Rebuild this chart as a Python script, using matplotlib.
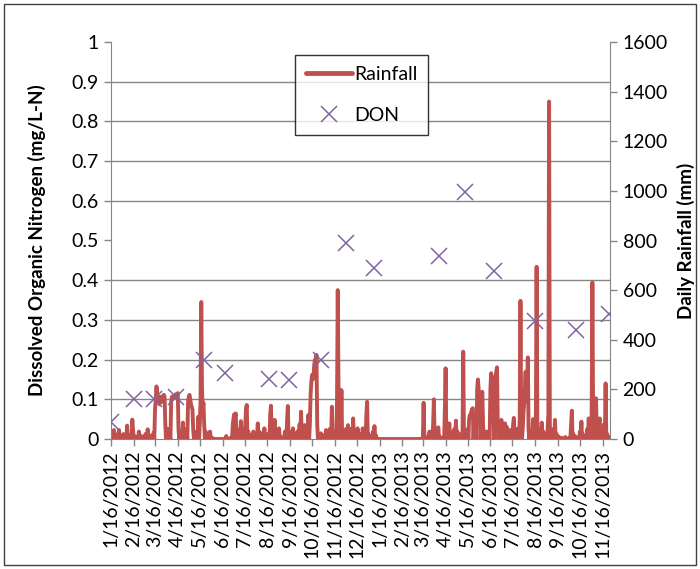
import pandas as pd
import matplotlib
matplotlib.use("Agg")
import matplotlib.pyplot as plt
import matplotlib.dates as mdates
import matplotlib.ticker as mticker
from matplotlib.patches import Rectangle
from matplotlib.lines import Line2D

plt.rcParams['font.family'] = ['Lato', 'DejaVu Sans']

# DON samples (mg/L-N)
don_dates = ["2012-01-16", "2012-02-17", "2012-03-15", "2012-04-14", "2012-05-22",
             "2012-06-19", "2012-08-18", "2012-09-14", "2012-10-28", "2012-12-01",
             "2013-01-08", "2013-04-07", "2013-05-13", "2013-06-21", "2013-08-16",
             "2013-10-11", "2013-11-24"]
don_vals = [0.043, 0.10, 0.10, 0.105, 0.20, 0.167, 0.151, 0.149, 0.199, 0.494,
            0.43, 0.461, 0.622, 0.423, 0.298, 0.275, 0.315]

# daily rainfall (mm), days not listed had no rain
rain_dates = [
    "2012-01-16", "2012-01-17", "2012-01-19", "2012-01-20", "2012-01-23", "2012-01-25",
    "2012-01-27", "2012-01-30", "2012-02-02", "2012-02-04", "2012-02-07", "2012-02-09",
    "2012-02-11", "2012-02-14", "2012-02-15", "2012-02-18", "2012-02-20", "2012-02-23",
    "2012-02-26", "2012-02-29", "2012-03-03", "2012-03-06", "2012-03-08", "2012-03-11",
    "2012-03-14", "2012-03-16", "2012-03-17", "2012-03-18", "2012-03-19", "2012-03-20",
    "2012-03-21", "2012-03-22", "2012-03-23", "2012-03-24", "2012-03-25", "2012-03-26",
    "2012-03-27", "2012-03-28", "2012-03-29", "2012-03-30", "2012-04-01", "2012-04-03",
    "2012-04-05", "2012-04-07", "2012-04-08", "2012-04-09", "2012-04-10", "2012-04-11",
    "2012-04-12", "2012-04-13", "2012-04-14", "2012-04-15", "2012-04-16", "2012-04-17",
    "2012-04-19", "2012-04-21", "2012-04-23", "2012-04-25", "2012-04-28", "2012-04-30",
    "2012-05-01", "2012-05-02", "2012-05-03", "2012-05-04", "2012-05-05", "2012-05-06",
    "2012-05-07", "2012-05-09", "2012-05-12", "2012-05-14", "2012-05-16", "2012-05-17",
    "2012-05-18", "2012-05-19", "2012-05-20", "2012-05-21", "2012-05-22", "2012-05-24",
    "2012-05-26", "2012-05-28", "2012-05-30", "2012-06-02", "2012-06-21", "2012-06-27",
    "2012-06-30", "2012-07-01", "2012-07-02", "2012-07-03", "2012-07-04", "2012-07-06",
    "2012-07-08", "2012-07-11", "2012-07-13", "2012-07-15", "2012-07-17", "2012-07-18",
    "2012-07-19", "2012-07-21", "2012-07-23", "2012-07-25", "2012-07-28", "2012-07-31",
    "2012-08-03", "2012-08-05", "2012-08-07", "2012-08-10", "2012-08-12", "2012-08-14",
    "2012-08-17", "2012-08-20", "2012-08-21", "2012-08-23", "2012-08-26", "2012-08-28",
    "2012-09-01", "2012-09-03", "2012-09-06", "2012-09-09", "2012-09-12", "2012-09-13",
    "2012-09-15", "2012-09-17", "2012-09-20", "2012-09-23", "2012-09-26", "2012-09-29",
    "2012-10-01", "2012-10-03", "2012-10-06", "2012-10-08", "2012-10-11", "2012-10-13",
    "2012-10-14", "2012-10-15", "2012-10-16", "2012-10-17", "2012-10-18", "2012-10-19",
    "2012-10-20", "2012-10-21", "2012-10-22", "2012-10-23", "2012-10-25", "2012-10-28",
    "2012-10-30", "2012-11-01", "2012-11-04", "2012-11-06", "2012-11-09", "2012-11-12",
    "2012-11-14", "2012-11-17", "2012-11-19", "2012-11-20", "2012-11-21", "2012-11-23",
    "2012-11-25", "2012-11-27", "2012-11-29", "2012-12-01", "2012-12-04", "2012-12-06",
    "2012-12-08", "2012-12-11", "2012-12-13", "2012-12-15", "2012-12-17", "2012-12-19",
    "2012-12-21", "2012-12-24", "2012-12-26", "2012-12-29", "2012-12-30", "2013-01-01",
    "2013-01-04", "2013-01-07", "2013-01-09", "2013-01-11",
    "2013-03-17", "2013-03-19", "2013-03-22", "2013-03-25", "2013-03-27", "2013-03-30",
    "2013-03-31", "2013-04-02", "2013-04-04", "2013-04-06", "2013-04-08", "2013-04-11",
    "2013-04-15", "2013-04-16", "2013-04-18", "2013-04-21", "2013-04-24", "2013-04-26",
    "2013-04-28", "2013-04-30", "2013-05-02", "2013-05-05", "2013-05-07", "2013-05-10",
    "2013-05-12", "2013-05-14", "2013-05-16", "2013-05-18", "2013-05-19", "2013-05-20",
    "2013-05-21", "2013-05-22", "2013-05-23", "2013-05-25", "2013-05-27", "2013-05-29",
    "2013-05-30", "2013-05-31", "2013-06-01", "2013-06-02", "2013-06-04", "2013-06-05",
    "2013-06-06", "2013-06-08", "2013-06-11", "2013-06-13", "2013-06-16", "2013-06-17",
    "2013-06-18", "2013-06-19", "2013-06-20", "2013-06-22", "2013-06-23", "2013-06-24",
    "2013-06-25", "2013-06-26", "2013-06-28", "2013-07-01", "2013-07-03", "2013-07-06",
    "2013-07-08", "2013-07-10", "2013-07-13", "2013-07-15", "2013-07-17", "2013-07-18",
    "2013-07-20", "2013-07-22", "2013-07-24", "2013-07-26", "2013-07-27", "2013-07-28",
    "2013-07-30", "2013-07-31", "2013-08-01", "2013-08-02", "2013-08-03", "2013-08-04",
    "2013-08-05", "2013-08-06", "2013-08-07", "2013-08-09", "2013-08-11", "2013-08-13",
    "2013-08-15", "2013-08-17", "2013-08-18", "2013-08-19", "2013-08-21", "2013-08-23",
    "2013-08-25", "2013-08-27", "2013-08-29", "2013-08-31", "2013-09-02", "2013-09-03",
    "2013-09-04", "2013-09-05", "2013-09-07", "2013-09-10", "2013-09-12", "2013-09-14",
    "2013-09-17", "2013-09-21", "2013-09-26", "2013-10-01", "2013-10-04", "2013-10-05",
    "2013-10-07", "2013-10-10", "2013-10-13", "2013-10-16", "2013-10-18", "2013-10-20",
    "2013-10-23", "2013-10-26", "2013-10-28", "2013-10-30", "2013-11-01", "2013-11-02",
    "2013-11-03", "2013-11-05", "2013-11-07", "2013-11-09", "2013-11-11", "2013-11-12",
    "2013-11-14", "2013-11-16", "2013-11-18", "2013-11-20", "2013-11-22", "2013-11-24",
]
rain_mm = [
    30, 15, 10, 36, 18, 5,
    36, 10, 20, 8, 54, 15,
    5, 78, 40, 10, 5, 30,
    12, 8, 20, 39, 15, 10,
    25, 120, 160, 212, 175, 150,
    165, 140, 170, 160, 150, 172,
    165, 178, 170, 60, 15, 40,
    20, 150, 170, 160, 173, 165,
    175, 180, 170, 178, 185, 40,
    15, 30, 66, 10, 40, 150,
    170, 178, 160, 140, 130, 120,
    40, 15, 30, 90, 60, 150,
    552, 200, 120, 145, 60, 30,
    15, 10, 30, 5, 12, 5,
    60, 85, 100, 90, 103, 40,
    20, 72, 30, 20, 60, 120,
    137, 30, 10, 16, 30, 20,
    63, 30, 15, 25, 43, 10,
    20, 100, 134, 40, 77, 20,
    43, 10, 5, 30, 80, 133,
    30, 10, 43, 15, 30, 60,
    110, 30, 56, 40, 97, 60,
    180, 230, 258, 240, 250, 300,
    320, 280, 339, 60, 5, 23,
    10, 15, 36, 20, 40, 130,
    25, 30, 150, 600, 220, 40,
    197, 30, 20, 40, 56, 20,
    40, 83, 30, 10, 43, 10,
    20, 43, 15, 100, 150, 20,
    10, 30, 52, 15,
    146, 10, 5, 30, 15, 60,
    160, 20, 35, 47, 10, 5,
    120, 285, 20, 63, 15, 30,
    40, 74, 30, 10, 20, 352,
    20, 5, 40, 80, 97, 90,
    110, 120, 124, 80, 60, 200,
    240, 200, 180, 150, 170, 190,
    60, 20, 30, 15, 200, 265,
    250, 230, 220, 200, 250, 270,
    289, 70, 50, 77, 40, 63,
    50, 20, 36, 20, 60, 85,
    20, 40, 30, 80, 557, 60,
    40, 100, 145, 200, 271, 150,
    200, 329, 40, 20, 30, 80,
    40, 100, 694, 40, 20, 40,
    66, 30, 15, 20, 40, 100,
    1360, 60, 30, 40, 77, 20,
    10, 5, 8, 5, 60, 114,
    20, 10, 5, 30, 70, 20,
    10, 40, 83, 60, 100, 631,
    100, 60, 164, 60, 70, 83,
    40, 30, 60, 224, 20, 10,
]

rain = pd.Series(rain_mm, index=pd.to_datetime(rain_dates))
days = pd.date_range("2012-01-16", "2013-11-24", freq="D")
rain = rain.reindex(days, fill_value=0)
don = pd.Series(don_vals, index=pd.to_datetime(don_dates))

grey = "#868686"
red = "#C0504D"
purple = "#8064A2"

fig = plt.figure(figsize=(7, 5.69), dpi=100)
ax_r = fig.add_axes([111 / 700, 1 - 439 / 569, 499 / 700, 397 / 569])
ax_d = ax_r.twinx()

# rainfall on the right axis, drawn underneath
ax_r.plot(rain.index, rain.values, color=red, lw=2.8,
          solid_joinstyle="round", solid_capstyle="round", zorder=3)
ax_r.set_ylim(0, 1600)
ax_r.yaxis.set_major_locator(mticker.MultipleLocator(200))
ax_r.yaxis.set_minor_locator(mticker.MultipleLocator(160))
ax_r.grid(axis="y", which="minor", color=grey, lw=1.0)
ax_r.set_axisbelow(True)
ax_r.yaxis.tick_right()
ax_r.yaxis.set_label_position("right")
ax_r.set_ylabel("Daily Rainfall (mm)", fontsize=13.5, fontweight="bold")
ax_r.yaxis.set_label_coords(1.134, 0.5)

ax_r.set_xlim(pd.Timestamp("2012-01-16"), pd.Timestamp("2013-11-26"))
ax_r.xaxis.set_major_locator(mdates.MonthLocator(bymonthday=16))
ax_r.xaxis.set_major_formatter(mticker.FuncFormatter(
    lambda v, pos: "{d.month}/{d.day}/{d.year}".format(d=mdates.num2date(v))))

ax_r.tick_params(axis="x", which="major", rotation=90, labelsize=14, length=5,
                 width=1, color=grey, pad=3)
ax_r.tick_params(axis="y", which="major", labelsize=14, length=5, width=1,
                 color=grey, pad=4)
ax_r.tick_params(axis="y", which="minor", length=0)
for s in ["top", "left"]:
    ax_r.spines[s].set_visible(False)
for s in ["right", "bottom"]:
    ax_r.spines[s].set_color(grey)

# DON on the left axis, drawn on top
ax_d.plot(don.index, don.values, ls="none", marker="x", ms=11, mew=1.1,
          color=purple, zorder=5)
ax_d.set_ylim(0, 1)
ax_d.yaxis.set_major_locator(mticker.MultipleLocator(0.1))
ax_d.yaxis.set_major_formatter(mticker.FuncFormatter(lambda v, pos: f"{v:g}"))
ax_d.yaxis.tick_left()
ax_d.yaxis.set_label_position("left")
ax_d.set_ylabel("Dissolved Organic Nitrogen (mg/L-N)", fontsize=13.5,
                fontweight="bold")
ax_d.yaxis.set_label_coords(-0.13, 0.5)
ax_d.tick_params(axis="y", labelsize=14, length=5, width=1, color=grey, pad=4)
for s in ["top", "right", "bottom"]:
    ax_d.spines[s].set_visible(False)
ax_d.spines["left"].set_color(grey)

handles = [Line2D([], [], color=red, lw=3.5, solid_capstyle="round"),
           Line2D([], [], ls="none", marker="x", ms=11, mew=1.1, color=purple)]
leg = fig.legend(handles, ["Rainfall", "DON"], loc="upper left",
                 bbox_to_anchor=(295 / 700, 1 - 55 / 569), fontsize=14,
                 frameon=True, fancybox=False, handlelength=2.4,
                 handletextpad=0.1, labelspacing=1.25, borderpad=0.55,
                 borderaxespad=0)
leg.get_frame().set_edgecolor("black")
leg.get_frame().set_linewidth(1.0)

fig.patches.append(Rectangle((4 / 700, 4 / 569), 692 / 700, 561 / 569,
                             transform=fig.transFigure, fill=False,
                             ec="#404040", lw=1.0))

fig.savefig("out.png", dpi=100)
